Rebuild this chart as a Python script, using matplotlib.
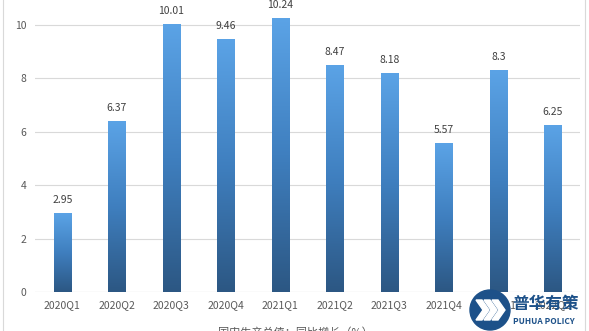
import matplotlib

matplotlib.use("Agg")
import matplotlib.pyplot as plt  # noqa: E402
import numpy as np  # noqa: E402
from matplotlib.patches import Circle, Polygon  # noqa: E402

plt.rcParams["font.family"] = ["Noto Sans CJK SC", "DejaVu Sans"]

quarters = ["2020Q1", "2020Q2", "2020Q3", "2020Q4", "2021Q1",
            "2021Q2", "2021Q3", "2021Q4", "2022Q1", "2022Q2"]
values = [2.95, 6.37, 10.01, 9.46, 10.24, 8.47, 8.18, 5.57, 8.3, 6.25]
yticks = [0, 2, 4, 6, 8, 10]

W, H = 589, 331
fig = plt.figure(figsize=(W / 100, H / 100), dpi=100)
fig.patch.set_facecolor("white")
ax = fig.add_axes([35 / W, 39 / H, 545 / W, 320.4 / H])
ax.set_xlim(-0.5, len(quarters) - 0.5)
ax.set_ylim(0, 12)

# vertical gradient: light blue on top, dark blue at the base
grad = np.linspace(0, 1, 256).reshape(-1, 1)
cmap = matplotlib.colors.LinearSegmentedColormap.from_list(
    "bar", ["#2c5783", "#3f7fbf", "#5ba3e6"])
bw = 0.32
for i, v in enumerate(values):
    ax.imshow(grad, cmap=cmap, origin="lower", aspect="auto",
              extent=(i - bw / 2, i + bw / 2, 0, v), zorder=2)
    ax.text(i, v + 0.32, f"{v:g}", ha="center", va="bottom",
            fontsize=7.5, color="#404040")
ax.set_xlim(-0.5, len(quarters) - 0.5)
ax.set_ylim(0, 12)

ax.set_yticks(yticks)
ax.yaxis.grid(True, color="#d9d9d9", lw=0.8, zorder=0)
ax.set_axisbelow(True)
ax.set_xticks(range(len(quarters)))
ax.set_xticklabels(quarters)
ax.tick_params(length=0, labelsize=7.5, colors="#595959", pad=6)
for s in ax.spines.values():
    s.set_visible(False)
ax.axhline(0, color="#d9d9d9", lw=0.8, zorder=1)

# outer chart frame
fig.add_artist(plt.Line2D([3 / W, 3 / W], [0, 1], color="#d9d9d9", lw=0.8))
fig.add_artist(plt.Line2D([585 / W, 585 / W], [0, 1], color="#d9d9d9", lw=0.8))

# cut-off caption at the bottom
fig.text(295 / W, 4 / H, "国内生产总值：同比增长（%）", ha="center", va="top",
         fontsize=8, color="#595959")

# logo
lax = fig.add_axes([468 / W, 0, 121 / W, 62 / H])
lax.set_xlim(0, 121)
lax.set_ylim(0, 62)
lax.set_axis_off()
lax.add_patch(Circle((22, 21), 20, color="#1d5189"))
for dx in (0, 8, 16):
    lax.add_patch(Polygon([[8 + dx, 31], [14 + dx, 31], [21 + dx, 21],
                           [14 + dx, 11], [8 + dx, 11], [15 + dx, 21]],
                          color="white"))
lax.text(44, 27, "普华有策", fontsize=12, fontweight="bold",
         color="#1d5189", va="center")
lax.text(45, 9, "PUHUA POLICY", fontsize=6, fontweight="bold",
         color="#1d5189", va="center")

fig.savefig("out.png", dpi=100, facecolor="white")
